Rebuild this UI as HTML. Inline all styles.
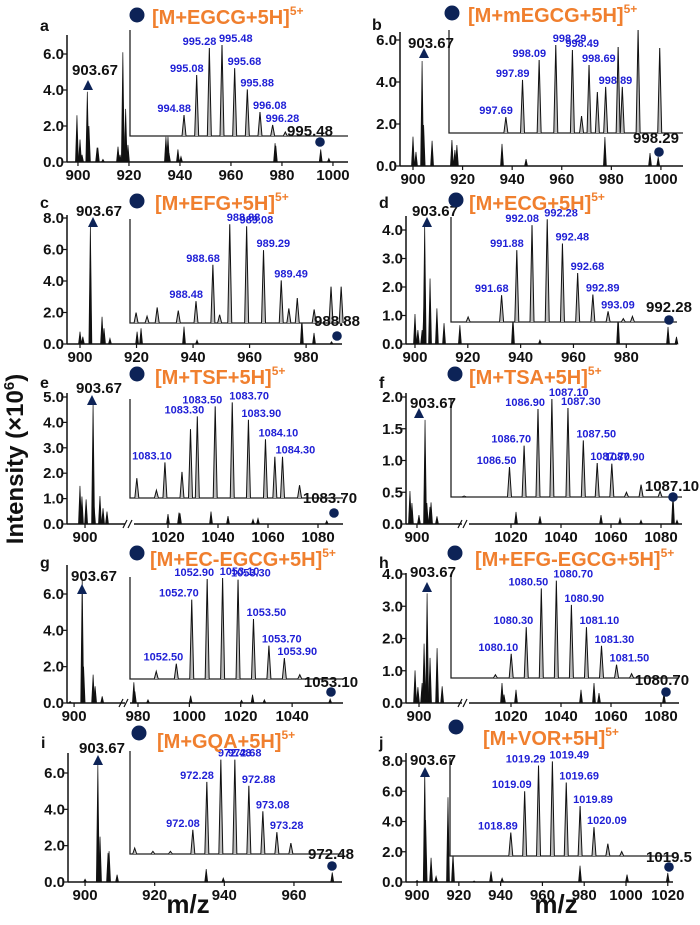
<!DOCTYPE html>
<html><head><meta charset="utf-8">
<style>
html,body{margin:0;padding:0;background:#fff;}
svg{display:block;font-family:"Liberation Sans",Arial,sans-serif;}
.tk{font-size:15px;font-weight:bold;fill:#111;}
.ann{font-size:15px;font-weight:bold;fill:#111;}
.ins{font-size:11px;font-weight:bold;fill:#1f1fd6;}
.ttl{font-size:20px;font-weight:bold;fill:#f07f2e;}
.let{font-size:16px;font-weight:bold;fill:#111;}
</style></head>
<body>
<svg id="fig" width="700" height="925" viewBox="0 0 700 925" xmlns="http://www.w3.org/2000/svg">
<text transform="translate(23,459) rotate(-90)" text-anchor="middle" font-size="24" font-weight="bold" fill="#111">Intensity (×10<tspan dy="-9" font-size="15">6</tspan><tspan dy="9">)</tspan></text>
<text x="188" y="913" text-anchor="middle" font-size="26" font-weight="bold" fill="#111">m/z</text>
<text x="556" y="913" text-anchor="middle" font-size="26" font-weight="bold" fill="#111">m/z</text>
</svg>
<script>
// ---- panel a data ----
const mzA=[899.6,900.8,901.6,903.67,904.3,907.5,907.8,909.8,915.7,916.5,917.6,918.7,919.6,934.5,935.3,935.7,939.2,940.4,977.3,977.6,995.2,998.4];
const intA=[2.6,1.25,0.4,3.9,2.0,0.8,0.8,0.15,0.85,0.4,6.1,2.95,0.95,1.4,1.4,0.5,0.7,0.3,1.05,0.9,0.7,0.2];
const insMzA=[994.88,995.08,995.28,995.48,995.68,995.88,996.08,996.28,996.48];
const insIntA=[19.8,57.5,83,85.8,64,44,22.6,10.4,3.8];
const insLabA=["994.88","995.08","995.28","995.48","995.68","995.88","996.08","996.28",""];
// ---- panel b ----
const mzB=[900,901.2,903.67,904.3,907.7,915.7,916.9,917.7,935.9,945.6,977.4,995.6,998.9];
const intB=[1.4,0.67,5.0,1.95,1.2,1.24,0.76,1.0,1.05,0.33,1.38,0.62,0.43];
const insMzB=[997.69,997.89,998.09,998.29,998.49,998.69,998.89,998.60,998.79,999.04,999.09,999.28,999.54];
const insIntB=[15.5,51.5,70.9,85.4,80.6,66,44.7,16.5,39.8,83.5,44.7,100,82.5];
const insLabB=["997.69","997.89","998.09","998.29","998.49","998.69","998.89","","","","","",""];
// ---- panel c ----
const mzC=[900,901,903.67,907.8,908.5,910.6,920.2,921.6,936.8,941.4,978.5,982.8,989];
const intC=[0.78,0.46,7.6,1.73,1.0,0.36,0.78,1.0,1.1,0.25,1.65,0.7,0.15];
const insMzC=[988.48,988.68,988.88,989.08,989.28,989.49,987.77,987.90,988.02,988.27,988.76,989.58,989.68,989.88,990.08,990.2];
const insIntC=[21,56,95,93,70,41,10,6.5,15,12,8,14,24,13,35,35];
const insLabC=["988.48","988.68","988.88","989.08","989.29","989.49","","","","","","","","","",""];
// ---- panel d ----
const mzD=[900,901.1,902.7,903.4,903.67,905.7,908.3,911,917,937.1,947.3,976.9,995.8,999];
const intD=[1.05,0.49,0.49,1.37,4.2,2.3,1.25,0.73,0.66,0.96,0.14,1.02,0.6,0.25];
const insMzD=[991.68,991.88,992.08,992.28,992.48,992.68,992.88,993.08,991.24,993.28,993.40];
const insIntD=[25.6,68.4,92.3,97.8,74.8,46.6,26.2,10.2,4.8,3.2,5.4];
const insLabD=["991.68","991.88","992.08","992.28","992.48","992.68","992.89","993.09","","",""];
// ---- panel e ----
const mzE=[897.7,898.6,900.5,903.67,904.1,906.8,908.2,910,1020,1024.4,1024.8,1037.2,1044,1054,1056,1083.5];
const intE=[1.5,1.08,0.97,4.78,0.75,1.1,0.62,0.49,0.39,0.45,0.42,0.49,0.31,0.18,0.22,0.13];
const insMzE=[1082.91,1083.29,1083.50,1083.70,1083.89,1084.09,1084.29,1082.58,1082.81,1083.11,1083.21,1084.2,1084.49];
const insIntE=[36,82.4,92.5,96.6,79,59.3,41.7,20,7.8,26.4,69.5,41.7,12.9];
const insLabE=["1083.10","1083.30","1083.50","1083.70","1083.90","1084.10","1084.30","","","","","",""];
// ---- panel f ----
const mzF=[896.8,897.7,900.9,903.67,904.5,905.9,906.4,909.1,1022,1031.6,1056,1063.6,1072,1084.8,1086.4];
const intF=[0.52,0.33,0.14,1.64,0.33,0.27,0.34,0.12,0.19,0.12,0.14,0.09,0.06,0.48,0.06];
const insMzF=[1086.52,1086.72,1086.91,1087.10,1087.32,1087.53,1087.72,1087.92,1088.12,1088.32,1088.58,1085.90];
const insIntF=[30.6,52.4,89.8,100,90.8,57.8,34.7,34,4.8,12.6,5.8,1];
const insLabF=["1086.50","1086.70","1086.90","1087.10","1087.30","1087.50","1087.70","1087.90","","","",""];
// ---- panel g ----
const mzG=[898.2,903.67,904.3,908.6,909.5,912.7,978.4,978.8,983.9,1000.5,1020.3,1024.6,1029.2,1054.8];
const intG=[0.09,6.9,2.0,1.56,0.92,0.37,1.14,0.64,0.18,0.40,0.15,0.46,0.18,0.22];
const insMzG=[1052.50,1052.70,1052.90,1053.10,1053.30,1053.50,1053.70,1053.90,1052.24,1054.10];
const insIntG=[15,77.8,98,99,97.4,58.8,32.7,20.6,7.5,4.2];
const insLabG=["1052.50","1052.70","1052.90","1053.10","1053.30","1053.50","1053.70","1053.90","",""];
// ---- panel h ----
const mzH=[898.2,899.5,901.4,902.3,903.67,905,908.2,910.5,1016.4,1017.2,1022,1048,1053.2,1055.2,1081.2];
const intH=[1.01,0.49,0.62,1.84,3.4,1.4,1.7,0.52,0.62,0.26,0.41,0.41,0.62,0.31,0.31];
const insMzH=[1080.10,1080.30,1080.50,1080.70,1080.90,1081.10,1081.30,1081.50,1079.89,1081.70];
const insIntH=[23.5,49.4,87,94.5,71,49.4,31.3,12.9,3.2,4.2];
const insLabH=["1080.10","1080.30","1080.50","1080.70","1080.90","1081.10","1081.30","1081.50","",""];
// ---- panel i ----
const mzI=[900,903.67,904.3,906.6,906.9,909.2,934.8,939.7,971];
const intI=[0.16,6.45,2.5,1.6,1.7,0.4,0.71,0.22,0.53];
const insMzI=[972.08,972.28,972.48,972.68,972.88,973.08,973.28,973.48,971.25,971.51,971.76];
const insIntI=[23.5,70,91.6,91.6,66.2,41.5,21.2,10.6,5.8,2.6,2.6];
const insLabI=["972.08","972.28","972.48","972.68","972.88","973.08","973.28","","","",""];
// ---- panel j ----
const mzJ=[900,903.67,904.1,906.7,909.1,914.8,917.2,927.3,935.4,940.7,978,1000.5,1020];
const intJ=[0.11,7.3,4.1,1.6,0.37,5.6,1.9,0.07,0.7,0.26,1.08,0.49,0.6];
const insMzJ=[1018.89,1019.09,1019.29,1019.49,1019.69,1019.89,1020.09,1020.29,1020.49];
const insIntJ=[24,66.1,92.3,96.5,75,51,29.4,12.5,4.5];
const insLabJ=["1018.89","1019.09","1019.29","1019.49","1019.69","1019.89","1020.09","",""];
// ---- tick arrays ----
const yTicks6=[0,2,4,6], yTicks8=[0,2,4,6,8], yTicks4=[0,1,2,3,4], yTicks5=[0,1,2,3,4,5], yTicks2=[0,0.5,1,1.5,2];
const xTicksAB=[900,920,940,960,980,1000], xTicksCD=[900,920,940,960,980], xTicksEF=[900,1020,1040,1060,1080];
const xTicksG=[900,980,1000,1020,1040], xTicksI=[900,920,940,960], xTicksJ=[900,920,940,960,980,1000,1020];

const NS="http://www.w3.org/2000/svg";
const svg=document.getElementById('fig');
function mk(tag,attrs,parent){const e=document.createElementNS(NS,tag);for(const k in attrs)e.setAttribute(k,attrs[k]);(parent||svg).appendChild(e);return e;}

const panels=[
 {id:'a',ax:67,by:162,ty:35,segs:[[895.7,1005.9,67,348]],yRef:[6,54],yT:yTicks6,xT:xTicksAB,mz:mzA,it:intA,
  ins:{l:130,r:348,t:30,b:136,m0:994.027,m1:997.47},im:insMzA,ii:insIntA,il:insLabA,
  let:[40,31],lab:[95,75],tri:[88,85],cir:[320,142],ml:['995.48',310,136],tc:[137,15],tt:['[M+EGCG+5H]',152,24]},
 {id:'b',ax:400,by:166,ty:32,segs:[[894.76,1008.9,400,683]],yRef:[6,40],yT:yTicks6,xT:xTicksAB,mz:mzB,it:intB,
  ins:{l:449,r:683,t:30,b:133,m0:997.006,m1:999.82},im:insMzB,ii:insIntB,il:insLabB,
  let:[372,30],lab:[431,48],tri:[424,53],cir:[659,152],ml:['998.29',656,143],tc:[452,13],tt:['[M+mEGCG+5H]',468,22]},
 {id:'c',ax:67,by:344,ty:215,segs:[[895.4,992.7,67,342]],yRef:[8,218],yT:yTicks8,xT:xTicksCD,mz:mzC,it:intC,
  ins:{l:130,r:342,t:219,b:323,m0:987.698,m1:990.21},im:insMzC,ii:insIntC,il:insLabC,
  let:[40,208],lab:[99,216],tri:[93,222],cir:[337,336],ml:['988.88',337,326],tc:[137,201],tt:['[M+EFG+5H]',155,210]},
 {id:'d',ax:406,by:344,ty:216,segs:[[896.6,999.2,406,677]],yRef:[4,230],yT:yTicks4,xT:xTicksCD,mz:mzD,it:intD,
  ins:{l:451,r:677,t:217,b:322,m0:991.015,m1:993.986},im:insMzD,ii:insIntD,il:insLabD,
  let:[379,208],lab:[435,216],tri:[427,222],cir:[669,320],ml:['992.28',669,312],tc:[456,200],tt:['[M+ECG+5H]',469,210]},
 {id:'e',ax:67,by:524,ty:393,segs:[[891.8,918.2,67,125],[1006.4,1090,134,343]],yRef:[5,397],yT:yTicks5,xT:xTicksEF,mz:mzE,it:intE,
  ins:{l:130,r:343,t:399,b:498,m0:1082.50,m1:1085.0},im:insMzE,ii:insIntE,il:insLabE,
  let:[40,388],lab:[99,393],tri:[92,400],cir:[334,513],ml:['1083.70',330,503],tc:[137,374],tt:['[M+TSF+5H]',155,384]},
 {id:'f',ax:406,by:524,ty:393,segs:[[895,920.5,406,462],[1003.2,1088.4,469,682]],yRef:[2,397],yT:yTicks2,xT:xTicksEF,mz:mzF,it:intF,
  ins:{l:451,r:682,t:399,b:497,m0:1085.72,m1:1088.88},im:insMzF,ii:insIntF,il:insLabF,
  let:[379,388],lab:[433,408],tri:[419,413],cir:[673,497],ml:['1087.10',672,491],tc:[455,374],tt:['[M+TSA+5H]',469,384]},
 {id:'g',ax:67,by:703,ty:565,segs:[[896.8,923,67,125],[976.9,1059.8,130,343]],yRef:[6,594],yT:yTicks6,xT:xTicksG,mz:mzG,it:intG,
  ins:{l:130,r:343,t:577,b:679,m0:1051.90,m1:1054.66},im:insMzG,ii:insIntG,il:insLabG,
  let:[40,568],lab:[94,581],tri:[82,589],cir:[331,692],ml:['1053.10',331,687],tc:[137,553],tt:['[M+EC-EGCG+5H]',150,566]},
 {id:'h',ax:406,by:703,ty:573,segs:[[894.1,919.5,406,462],[1003.2,1087.2,469,679]],yRef:[4,574],yT:yTicks4,xT:xTicksEF,mz:mzH,it:intH,
  ins:{l:451,r:679,t:575,b:678,m0:1079.30,m1:1082.33},im:insMzH,ii:insIntH,il:insLabH,
  let:[379,568],lab:[433,577],tri:[427,587],cir:[666,692],ml:['1080.70',662,685],tc:[455,553],tt:['[M+EFG-EGCG+5H]',475,566]},
 {id:'i',ax:68,by:882,ty:753,segs:[[895.1,973.8,68,342]],yRef:[6,773],yT:yTicks6,xT:xTicksI,mz:mzI,it:intI,
  ins:{l:130,r:342,t:751,b:854,m0:971.183,m1:974.21},im:insMzI,ii:insIntI,il:insLabI,
  let:[41,748],lab:[102,753],tri:[98,760],cir:[332,866],ml:['972.48',331,859],tc:[139,733],tt:['[M+GQA+5H]',157,748]},
 {id:'j',ax:406,by:882,ty:753,segs:[[894.7,1022.5,406,673]],yRef:[8,761],yT:yTicks8,xT:xTicksJ,mz:mzJ,it:intJ,
  ins:{l:450,r:673,t:758,b:856,m0:1018.013,m1:1021.23},im:insMzJ,ii:insIntJ,il:insLabJ,
  let:[379,748],lab:[433,765],tri:[425,772],cir:[669,867],ml:['1019.5',669,862],tc:[456,727],tt:['[M+VOR+5H]',483,745]}
];

function fmt(v){return v.toFixed(1);}

panels.forEach(p=>{
  const g=mk('g',{});
  
  
  const xs=m=>{for(const s of p.segs){if(m>=s[0]&&m<=s[1])return s[2]+(m-s[0])/(s[1]-s[0])*(s[3]-s[2]);}
    const s=m<p.segs[0][0]?p.segs[0]:p.segs[p.segs.length-1];return s[2]+(m-s[0])/(s[1]-s[0])*(s[3]-s[2]);};
  const ppu=(p.by-p.yRef[1])/p.yRef[0];
  const ys=v=>p.by-v*ppu;
  const ya=mk('line',{x1:p.ax,y1:p.ty,x2:p.ax,y2:p.by,stroke:'#111','stroke-width':1.5},g);
  
  
  p.segs.forEach((s,k)=>{
    const xa=mk('line',{x1:s[2],y1:p.by,x2:s[3],y2:p.by,stroke:'#111','stroke-width':1.5},g);
    
    
    if(k>0){
      [s[2]-9,s[2]-4].forEach(bx=>{
        const br=mk('line',{x1:bx-2,y1:p.by+4,x2:bx+2,y2:p.by-4,stroke:'#111','stroke-width':1.2},g);
        
        
      });
    }
  });
  p.yT.forEach(v=>{
    const y=ys(v);
    const t=mk('line',{x1:p.ax-4,y1:y,x2:p.ax,y2:y,stroke:'#111','stroke-width':1.2},g);
    
    
    const l=mk('text',{x:p.ax-3,y:y+5,'text-anchor':'end',class:'tk'},g);
    l.textContent=fmt(v);
    
    
  });
  p.xT.forEach(v=>{
    const x=xs(v);
    const t=mk('line',{x1:x,y1:p.by,x2:x,y2:p.by+4,stroke:'#111','stroke-width':1.2},g);
    
    
    const l=mk('text',{x:x,y:p.by+18,'text-anchor':'middle',class:'tk'},g);
    l.textContent=v;
    
    
  });
  p.mz.forEach((m,i)=>{
    const x=xs(m),y=ys(p.it[i]);
    const pk=mk('path',{d:`M${x-1.5},${p.by}L${x},${y}L${x+1.5},${p.by}Z`,fill:'#111',stroke:'#111','stroke-width':0.7},g);
    
    
  });
  const I=p.ins;
  const ix=m=>I.l+(m-I.m0)/(I.m1-I.m0)*(I.r-I.l);
  const iy=v=>I.b-v/100*(I.b-I.t);
  const ig=mk('g',{},g);
  
  
  mk('rect',{x:I.l,y:I.t,width:I.r-I.l,height:I.b-I.t,fill:'#fff'},ig);
  mk('path',{d:`M${I.l},${I.t}L${I.l},${I.b}L${I.r},${I.b}`,fill:'none',stroke:'#222','stroke-width':1.3},ig);
  // find the most intense labelled peak (labels left of it anchor end, right of it anchor start)
  let maxMz=null,maxV=-1;
  p.im.forEach((m,i)=>{if(p.il[i]&&p.ii[i]>maxV){maxV=p.ii[i];maxMz=m;}});
  p.im.forEach((m,i)=>{
    const x=ix(m),y=iy(p.ii[i]);
    const pk=mk('path',{d:`M${x-2},${I.b}L${x},${y}L${x+2},${I.b}`,fill:'#bbb',stroke:'#111','stroke-width':1},ig);
    
    
    if(p.il[i]){
      let anchor,lx;
      if(m<maxMz){anchor='end';lx=x+7;}
      else if(m===maxMz){anchor='start';lx=x-3;}
      else{anchor='start';lx=x-7;}
      const l=mk('text',{x:lx,y:y-3,'text-anchor':anchor,class:'ins'},ig);
      l.textContent=p.il[i];
      
      
    }
  });
  const lt=mk('text',{x:p.let[0],y:p.let[1],class:'let'},g);lt.textContent=p.id;
  
  
  const lb=mk('text',{x:p.lab[0],y:p.lab[1],'text-anchor':'middle',class:'ann'},g);lb.textContent='903.67';
  
  
  const tr=mk('path',{d:`M${p.tri[0]-5},${p.tri[1]+5}L${p.tri[0]},${p.tri[1]-5}L${p.tri[0]+5},${p.tri[1]+5}Z`,fill:'#0d2357'},g);
  
  
  const cm=mk('circle',{cx:p.cir[0],cy:p.cir[1],r:4.8,fill:'#0d2357'},g);
  
  
  const ml=mk('text',{x:p.ml[1],y:p.ml[2],'text-anchor':'middle',class:'ann'},g);ml.textContent=p.ml[0];
  
  
  const tc=mk('circle',{cx:p.tc[0],cy:p.tc[1],r:7.5,fill:'#0d2357'},g);
  
  
  const tt=mk('text',{x:p.tt[1],y:p.tt[2],class:'ttl'},g);
  
  
  const s1=mk('tspan',{},tt);s1.textContent=p.tt[0];
  const s2=mk('tspan',{dy:-9,'font-size':12},tt);s2.textContent='5+';
});
</script>
</body></html>
